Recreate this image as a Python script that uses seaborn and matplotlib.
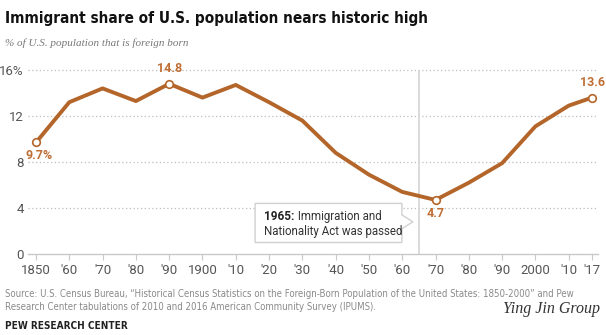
import matplotlib
matplotlib.use("Agg")
import matplotlib.pyplot as plt
import seaborn as sns
import pandas as pd
from matplotlib.patches import Polygon
from matplotlib import font_manager as fm

years = [1850, 1860, 1870, 1880, 1890, 1900, 1910, 1920, 1930, 1940, 1950, 1960, 1970, 1980, 1990, 2000, 2010, 2017]
share = [9.7, 13.2, 14.4, 13.3, 14.8, 13.6, 14.7, 13.2, 11.6, 8.8, 6.9, 5.4, 4.7, 6.2, 7.9, 11.1, 12.9, 13.6]
tick_labels = ["1850", "'60", "'70", "'80", "'90", "1900", "'10", "'20", "'30", "'40", "'50", "'60", "'70", "'80", "'90", "2000", "'10", "'17"]
y_ticks = [0, 4, 8, 12, 16]
y_labels = ["0", "4", "8", "12", "16%"]
highlight_years = [1850, 1890, 1970, 2017]
highlight_labels = ["9.7%", "14.8", "4.7", "13.6"]
highlight_pos = ["below", "above", "below", "above"]

sns.set_style("white")
plt.rcParams["font.family"] = ["Roboto", "DejaVu Sans"]

names = {f.name for f in fm.fontManager.ttflist}
has_narrow = "Liberation Sans Narrow" in names
has_dv_cond = any(f.name == "DejaVu Sans" and "Condensed" in f.fname for f in fm.fontManager.ttflist)
if has_narrow:
    TITLE_KW = dict(family=["Liberation Sans Narrow", "DejaVu Sans"], fontsize=13)
    SRC_KW = dict(family=["Liberation Sans Narrow", "DejaVu Sans"], fontsize=7.6)
elif has_dv_cond:
    TITLE_KW = dict(family=["DejaVu Sans"], fontstretch="condensed", fontsize=11)
    SRC_KW = dict(family=["DejaVu Sans"], fontstretch="condensed", fontsize=6.9)
else:
    TITLE_KW = dict(family=["Roboto", "DejaVu Sans"], fontsize=10.5)
    SRC_KW = dict(family=["Roboto", "DejaVu Sans"], fontsize=7)

df = pd.DataFrame({"year": years, "share": share})
LINE = "#B4652A"
LABEL = "#BF6F35"

fig = plt.figure(figsize=(6.06, 3.35), dpi=100)
ax = fig.add_axes([28/606, 1-254/335, (598-28)/606, (254-70)/335])

sns.lineplot(data=df, x="year", y="share", ax=ax, color=LINE, linewidth=2.8, zorder=3)
hl = df[df["year"].isin(highlight_years)]
ax.scatter(hl["year"], hl["share"], s=30, facecolor="white", edgecolor=LINE, linewidth=1.2, zorder=4)

for yr, lab, pos in zip(highlight_years, highlight_labels, highlight_pos):
    v = df.loc[df["year"] == yr, "share"].iloc[0]
    if pos == "above":
        ax.annotate(lab, (yr, v), xytext=(0, 6), textcoords="offset points", ha="center", va="bottom",
                    fontsize=9, fontweight="bold", color=LABEL, zorder=5)
    else:
        ax.annotate(lab, (yr, v), xytext=(2 if yr == 1850 else 0, -5), textcoords="offset points", ha="center", va="top",
                    fontsize=9, fontweight="bold", color=LABEL, zorder=5)

ax.set_xlim(1847.6, 2018.8)
ax.set_ylim(0, 16)
ax.set_xticks(years)
ax.set_xticklabels(tick_labels)
ax.set_yticks(y_ticks)
ax.set_yticklabels(y_labels)
ax.set_xlabel("")
ax.set_ylabel("")
for s in ["top", "right", "left"]:
    ax.spines[s].set_visible(False)
ax.spines["bottom"].set_color("#c8c8c8")
ax.spines["bottom"].set_linewidth(1)
ax.spines["bottom"].set_zorder(1)
ax.tick_params(axis="x", length=4, color="#c8c8c8", labelsize=9.5, labelcolor="#555555", pad=3, bottom=True)
ax.tick_params(axis="y", length=0, labelsize=9.5, labelcolor="#555555", pad=3)
for t in y_ticks[1:]:
    ax.axhline(t, color="#bdbdbd", linewidth=0.9, linestyle=(0, (1, 2)), zorder=1, clip_on=False)

ax.axvline(1965, color="#d4d4d4", linewidth=1.2, zorder=2)

box = Polygon([(1915.8, 1.0), (1959.9, 1.0), (1959.9, 2.2), (1963.2, 2.8), (1959.9, 3.4), (1959.9, 4.4), (1915.8, 4.4)],
              closed=True, facecolor="white", edgecolor="#d0d0d0", linewidth=1, zorder=6)
ax.add_patch(box)
t1 = ax.text(1918.6, 3.3, "1965:", fontsize=8.5, fontweight="bold", color="#222222", va="center", ha="left", zorder=7)
ax.annotate(" Immigration and", xy=(1, 0.5), xycoords=t1, va="center", ha="left", fontsize=8.3, color="#333333", zorder=7)
ax.text(1918.6, 2.0, "Nationality Act was passed", fontsize=8.3, color="#333333", va="center", ha="left", zorder=7)

fig.text(5/606, 1-18/335, "Immigrant share of U.S. population nears historic high", fontweight="bold",
         color="#111111", va="center", ha="left", **TITLE_KW)
fig.text(5/606, 1-43/335, "% of U.S. population that is foreign born", fontsize=8, style="italic",
         color="#777777", va="center", ha="left", family=["Liberation Serif", "DejaVu Serif"])
fig.text(5/606, 1-294/335, "Source: U.S. Census Bureau, \u201cHistorical Census Statistics on the Foreign-Born Population of the United States: 1850-2000\u201d and Pew",
         color="#8a8a8a", va="center", ha="left", **SRC_KW)
fig.text(5/606, 1-307/335, "Research Center tabulations of 2010 and 2016 American Community Survey (IPUMS).",
         color="#8a8a8a", va="center", ha="left", **SRC_KW)
fig.text(5/606, 1-326/335, "PEW RESEARCH CENTER", fontweight="bold", color="#222222", va="center", ha="left",
         **dict(SRC_KW, fontsize=SRC_KW["fontsize"] + 0.3))
fig.text(600/606, 1-309/335, "Ying Jin Group", fontsize=11.5, style="italic", color="#333333", va="center", ha="right",
         family=["Liberation Serif", "DejaVu Serif"])

fig.savefig("out.png", dpi=100)
